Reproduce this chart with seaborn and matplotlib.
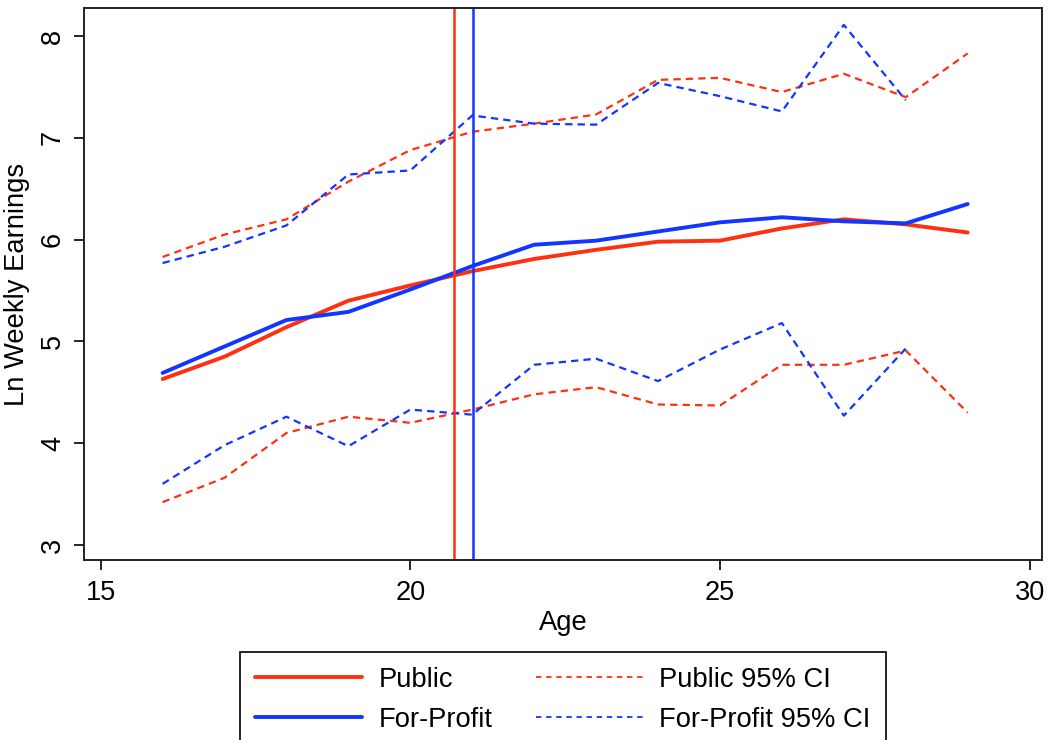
import matplotlib
matplotlib.use("Agg")
import matplotlib.pyplot as plt
from matplotlib.lines import Line2D
import seaborn as sns
import numpy as np
import pandas as pd

age = [16, 17, 18, 19, 20, 21, 22, 23, 24, 25, 26, 27, 28, 29]
public_mean = [4.63, 4.85, 5.14, 5.40, 5.55, 5.69, 5.81, 5.90, 5.98, 5.99, 6.11, 6.20, 6.15, 6.07]
forprofit_mean = [4.69, 4.95, 5.21, 5.29, 5.51, 5.74, 5.95, 5.99, 6.08, 6.17, 6.22, 6.18, 6.16, 6.35]
public_ci_hi = [5.83, 6.05, 6.20, 6.57, 6.88, 7.06, 7.14, 7.23, 7.57, 7.59, 7.45, 7.63, 7.40, 7.83]
public_ci_lo = [3.42, 3.66, 4.10, 4.26, 4.20, 4.33, 4.48, 4.55, 4.38, 4.37, 4.77, 4.77, 4.91, 4.30]
forprofit_ci_hi = [5.77, 5.93, 6.14, 6.64, 6.68, 7.22, 7.14, 7.13, 7.54, 7.41, 7.26, 8.11, 7.37, np.nan]
forprofit_ci_lo = [3.60, 3.98, 4.26, 3.97, 4.33, 4.28, 4.77, 4.83, 4.61, 4.92, 5.18, 4.27, 4.93, np.nan]
vline_public = 20.71
vline_forprofit = 21.01

x_ticks = [15, 20, 25, 30]
y_ticks = [3, 4, 5, 6, 7, 8]

RED = "#ff3010"
BLUE = "#1036ff"

sns.set_style("white")
plt.rcParams["font.family"] = ["Liberation Sans", "DejaVu Sans"]
plt.rcParams["text.color"] = "black"
plt.rcParams["axes.labelcolor"] = "black"
plt.rcParams["xtick.color"] = "black"
plt.rcParams["ytick.color"] = "black"

fig = plt.figure(figsize=(10.52, 7.40), dpi=100)
ax = fig.add_axes([0.0798, 0.243, 0.9107, 0.746])

df = pd.DataFrame({
    "age": age,
    "public_mean": public_mean,
    "forprofit_mean": forprofit_mean,
    "public_ci_hi": public_ci_hi,
    "public_ci_lo": public_ci_lo,
    "forprofit_ci_hi": forprofit_ci_hi,
    "forprofit_ci_lo": forprofit_ci_lo,
})

dash = (0, (3.3, 2.3))
for col, color in [("public_ci_hi", RED), ("public_ci_lo", RED),
                   ("forprofit_ci_hi", BLUE), ("forprofit_ci_lo", BLUE)]:
    sub = df[["age", col]].dropna()
    sns.lineplot(data=sub, x="age", y=col, ax=ax, color=color, linewidth=1.6,
                 linestyle=dash, legend=False)

sns.lineplot(data=df, x="age", y="public_mean", ax=ax, color=RED, linewidth=2.8, legend=False)
sns.lineplot(data=df, x="age", y="forprofit_mean", ax=ax, color=BLUE, linewidth=2.8, legend=False)

ax.axvline(vline_public, color=RED, linewidth=1.8)
ax.axvline(vline_forprofit, color=BLUE, linewidth=1.8)

ax.set_xlim(14.73, 30.2)
ax.set_ylim(2.85, 8.275)
ax.set_xticks(x_ticks)
ax.set_yticks(y_ticks)
ax.set_xticklabels([str(t) for t in x_ticks], fontsize=19.5, color="black")
ax.set_yticklabels([str(t) for t in y_ticks], fontsize=19.5, rotation=90, va="center", color="black")
ax.tick_params(axis="both", which="major", direction="out", length=7, width=1.2,
               color="black", bottom=True, left=True, top=False, right=False)
ax.tick_params(axis="x", pad=7)
ax.tick_params(axis="y", pad=6)
ax.set_xlabel("Age", fontsize=19.7, labelpad=3, color="black")
ax.set_ylabel("Ln Weekly Earnings", fontsize=19.7, labelpad=7, color="black")
for s in ax.spines.values():
    s.set_visible(True)
    s.set_color("#222222")
    s.set_linewidth(1.4)

handles = [
    Line2D([], [], color=RED, linewidth=2.8),
    Line2D([], [], color=BLUE, linewidth=2.8),
    Line2D([], [], color=RED, linewidth=1.3, linestyle=(0, (3, 2.6))),
    Line2D([], [], color=BLUE, linewidth=1.3, linestyle=(0, (3, 2.6))),
]
labels = ["Public", "For-Profit", "Public 95% CI", "For-Profit 95% CI"]
leg = fig.legend(handles, labels, ncol=2, loc="upper center",
                 bbox_to_anchor=(0.535, 0.119), bbox_transform=fig.transFigure,
                 fontsize=19.7, frameon=True, fancybox=False, framealpha=1,
                 edgecolor="black", handlelength=3.9, handletextpad=0.6,
                 columnspacing=1.6, borderpad=0.55, labelspacing=0.5,
                 borderaxespad=0)
leg.get_frame().set_linewidth(1.2)
for t in leg.get_texts():
    t.set_color("black")

fig.savefig("out.png", dpi=100)
